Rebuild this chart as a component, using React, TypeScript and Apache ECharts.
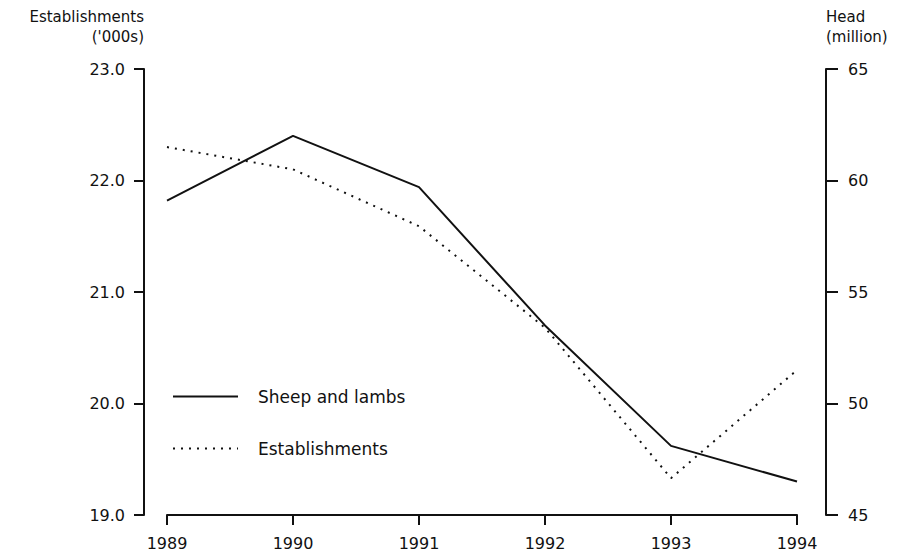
import React, { useEffect, useRef } from "react";
import * as echarts from "echarts";

const years = ["1989", "1990", "1991", "1992", "1993", "1994"];
const sheepAndLambs = [59.1, 62.0, 59.7, 53.5, 48.1, 46.5]; // million head (right axis)
const establishments = [22.3, 22.1, 21.59, 20.68, 19.33, 20.3]; // '000s (left axis)
const leftTitle = "Establishments\n('000s)";
const rightTitle = "Head\n(million)";

const FONT = "DejaVu Sans";

export default function App() {
  const ref = useRef<HTMLDivElement>(null);
  useEffect(() => {
    if (!ref.current) return;
    const chart = echarts.init(ref.current, undefined, { renderer: "svg" });
    chart.setOption({
      animation: false,
      backgroundColor: "#ffffff",
      grid: { left: 167, right: 107, top: 69, bottom: 40 },
      legend: {
        orient: "vertical",
        left: 172,
        top: 388,
        padding: 0,
        itemWidth: 65,
        itemHeight: 14,
        itemGap: 35,
        itemStyle: { opacity: 0 },
        textStyle: { fontFamily: FONT, fontSize: 17, color: "#111", padding: [0, 0, 0, 15] },
        data: ["Sheep and lambs", "Establishments"],
      },
      xAxis: {
        type: "category",
        data: years,
        boundaryGap: false,
        axisLine: { lineStyle: { color: "#111", width: 2 } },
        axisTick: { length: 10, lineStyle: { color: "#111", width: 2 } },
        axisLabel: { fontFamily: FONT, fontSize: 16, color: "#111", margin: 20 },
        splitLine: { show: false },
      },
      yAxis: [
        {
          type: "value",
          position: "left",
          offset: 23,
          min: 19,
          max: 23,
          interval: 1,
          name: leftTitle,
          nameLocation: "end",
          nameGap: 22,
          nameTextStyle: {
            fontFamily: FONT,
            fontSize: 15,
            color: "#111",
            align: "right",
            verticalAlign: "bottom",
            lineHeight: 20,
          },
          axisLine: { show: true, lineStyle: { color: "#111", width: 2 } },
          axisTick: { show: true, length: 10, lineStyle: { color: "#111", width: 2 } },
          axisLabel: {
            fontFamily: FONT,
            fontSize: 16,
            color: "#111",
            margin: 19,
            formatter: (v: number) => v.toFixed(1),
          },
          splitLine: { show: false },
        },
        {
          type: "value",
          position: "right",
          offset: 29,
          min: 45,
          max: 65,
          interval: 5,
          name: rightTitle,
          nameLocation: "end",
          nameGap: 22,
          nameTextStyle: {
            fontFamily: FONT,
            fontSize: 15,
            color: "#111",
            align: "left",
            verticalAlign: "bottom",
            lineHeight: 20,
          },
          axisLine: { show: true, lineStyle: { color: "#111", width: 2 } },
          axisTick: { show: true, length: 12, lineStyle: { color: "#111", width: 2 } },
          axisLabel: { fontFamily: FONT, fontSize: 16, color: "#111", margin: 22 },
          splitLine: { show: false },
        },
      ],
      series: [
        {
          name: "Sheep and lambs",
          type: "line",
          yAxisIndex: 1,
          data: sheepAndLambs,
          symbol: "none",
          lineStyle: { color: "#111", width: 2, type: "solid" },
          itemStyle: { color: "#111" },
        },
        {
          name: "Establishments",
          type: "line",
          yAxisIndex: 0,
          data: establishments,
          symbol: "none",
          lineStyle: { color: "#111", width: 2, type: [2, 6] },
          itemStyle: { color: "#111" },
        },
      ],
    });
    return () => chart.dispose();
  }, []);
  return (
    <div
      ref={ref}
      style={{ position: "fixed", left: 0, top: 0, width: 904, height: 555, background: "#fff" }}
    />
  );
}
